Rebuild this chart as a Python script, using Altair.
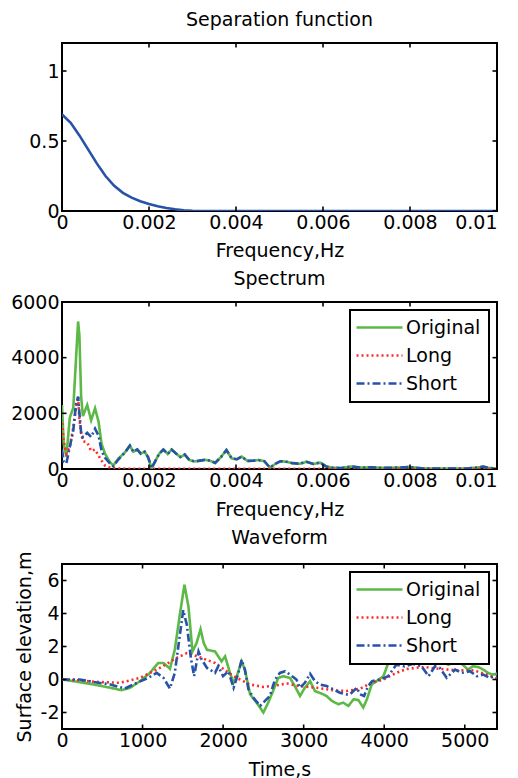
import altair as alt
import pandas as pd

FONT = "DejaVu Sans"
FS = 19

# ---------------- data ----------------
sep_freq = [0, 0.0002, 0.0004, 0.0006, 0.0008, 0.001, 0.0012, 0.0014, 0.0016, 0.0018,
            0.002, 0.0022, 0.0024, 0.0026, 0.0028, 0.003, 0.004, 0.006, 0.008, 0.01]
sep_value = [0.69, 0.63, 0.54, 0.44, 0.34, 0.25, 0.18, 0.13, 0.095, 0.07,
             0.05, 0.034, 0.021, 0.012, 0.005, 0.002, 0.0, 0.0, 0.0, 0.0]

spec_freq = [0, 0.00004, 0.0001, 0.00018, 0.00026, 0.00032, 0.00037, 0.0004, 0.00044, 0.00048,
             0.00058, 0.00067, 0.00076, 0.00084, 0.00091, 0.00099, 0.0011, 0.00118, 0.0013, 0.00145,
             0.00156, 0.00164, 0.00173, 0.00181, 0.0019, 0.00198, 0.00206, 0.00215, 0.00224, 0.00233,
             0.00243, 0.00252, 0.00262, 0.00272, 0.00282, 0.00293, 0.00305, 0.00317, 0.00329, 0.0034,
             0.00352, 0.00365, 0.00378, 0.0039, 0.00402, 0.00413, 0.00426, 0.0044, 0.00452, 0.00465,
             0.00478, 0.0049, 0.00502, 0.00516, 0.0053, 0.00547, 0.00562, 0.00578, 0.00593, 0.00608,
             0.0062, 0.0064, 0.00665, 0.00685, 0.0071, 0.0074, 0.0077, 0.008, 0.0083, 0.0086,
             0.009, 0.0093, 0.0096, 0.00968, 0.0098, 0.01]
spec_original = [2300, 900, 450, 1850, 2200, 3900, 5300, 4800, 2600, 1900,
                 2300, 1750, 2180, 1700, 900, 550, 250, 130, 380, 600,
                 840, 620, 700, 550, 620, 420, 30, 300, 560, 700,
                 540, 700, 560, 430, 520, 320, 270, 300, 330, 300,
                 220, 420, 680, 380, 350, 450, 290, 300, 320, 280,
                 50, 180, 280, 260, 210, 190, 260, 180, 230, 90,
                 50, 30, 90, 50, 60, 40, 50, 70, 20, 20,
                 20, 20, 60, 90, 40, 10]
spec_long = [1650, 1000, 550, 800, 1500, 2200, 2600, 1800, 1300, 1000,
             950, 650, 700, 480, 300, 120, 50, 30, 20, 10,
             10, 10, 10, 10, 10, 10, 10, 10, 10, 10,
             10, 10, 10, 10, 10, 10, 10, 10, 10, 10,
             10, 10, 10, 10, 10, 10, 10, 10, 10, 10,
             10, 10, 10, 10, 10, 10, 10, 10, 10, 10,
             10, 10, 10, 10, 10, 10, 10, 10, 10, 10,
             10, 10, 10, 10, 10, 10]
spec_short = [700, 250, 200, 800, 1400, 2300, 2600, 2000, 1300, 1150,
              1300, 1150, 1450, 1200, 650, 400, 200, 100, 350, 600,
              840, 620, 700, 550, 620, 420, 30, 300, 560, 700,
              540, 700, 560, 430, 520, 320, 270, 300, 330, 300,
              220, 420, 680, 380, 350, 450, 290, 300, 320, 280,
              50, 180, 280, 260, 210, 190, 260, 180, 230, 90,
              50, 30, 90, 50, 60, 40, 50, 70, 20, 20,
              20, 20, 60, 90, 40, 10]

wave_original_t = [0, 140, 390, 600, 740, 845, 970, 1090, 1195, 1260,
                   1340, 1400, 1465, 1520, 1570, 1620, 1670, 1720, 1760, 1800,
                   1900, 1980, 2025, 2085, 2130, 2170, 2230, 2270, 2335, 2415,
                   2500, 2560, 2620, 2685, 2750, 2830, 2890, 2955, 3015, 3080,
                   3140, 3220, 3285, 3350, 3430, 3490, 3555, 3620, 3680, 3740,
                   3785, 3845, 3905, 3990, 4050, 4110, 4200, 4300, 4400, 4480,
                   4550, 4650, 4740, 4800, 4880, 4940, 5040, 5100, 5170, 5230,
                   5290, 5340, 5400]
wave_original_v = [0, -0.1, -0.3, -0.5, -0.65, -0.5, -0.1, 0.4, 1.0, 1.0,
                   0.65, 1.8, 4.0, 5.75, 4.4, 1.7, 2.2, 3.05, 2.2, 1.8,
                   1.7, 1.1, 1.4, 0.4, -0.2, 0.2, 1.1, 0.6, -0.9, -1.4,
                   -2.0, -1.4, -0.7, 0.1, 0.2, 0.1, -0.4, -1.0, -0.5, -0.1,
                   -0.7, -0.85, -1.0, -1.3, -1.5, -1.4, -1.6, -1.2, -1.25, -1.7,
                   -1.2, -0.3, -0.1, 0.2, 1.0, 1.4, 1.6, 1.4, 1.7, 1.3,
                   1.0, 1.3, 1.0, 0.9, 1.1, 1.05, 0.6, 0.8, 0.75, 0.6,
                   0.4, 0.3, 0.35]

wave_long_t = [0, 200, 400, 720, 970, 1215, 1420, 1550, 1710, 1900,
               2130, 2330, 2500, 2660, 2790, 2950, 3160, 3370, 3530, 3700,
               3840, 3990, 4150, 4280, 4490, 4690, 4900, 5110, 5270, 5400]
wave_long_v = [0, -0.05, -0.14, -0.2, 0.1, 0.7, 1.3, 1.6, 1.35, 1.0,
               0.2, -0.3, -0.45, -0.36, -0.24, -0.4, -0.5, -0.66, -0.7, -0.56,
               -0.2, 0.0, 0.4, 0.64, 0.76, 0.64, 0.56, 0.56, 0.3, 0.04]

wave_short_t = [0, 220, 390, 600, 780, 930, 1070, 1175, 1260, 1340,
                1400, 1455, 1505, 1550, 1600, 1640, 1695, 1735, 1800, 1900,
                1940, 2000, 2065, 2130, 2190, 2230, 2270, 2315, 2375, 2460,
                2520, 2580, 2645, 2705, 2770, 2830, 2910, 2955, 3015, 3080,
                3140, 3200, 3285, 3370, 3450, 3535, 3575, 3660, 3700, 3750,
                3800, 3850, 3950, 4050, 4150, 4250, 4360, 4465, 4550, 4630,
                4690, 4775, 4880, 4960, 5065, 5150, 5230, 5310, 5400]
wave_short_v = [0, 0, -0.15, -0.3, -0.55, -0.2, 0.1, 0.4, 0.1, -0.55,
                0.4, 2.4, 4.2, 3.3, 1.3, 0.2, 1.7, 1.2, 0.7, 0.4,
                0.8, 0.2, 0.5, -0.5, 0.4, 1.2, 0.6, -0.6, -1.1, -1.6,
                -1.3, -1.0, 0.0, 0.4, 0.5, 0.3, 0.0, -0.5, -0.2, 0.35,
                -0.1, -0.3, -0.4, -0.6, -0.8, -0.9, -0.9, -0.5, -0.9, -1.0,
                -0.4, -0.1, 0.0, 0.2, 0.9, 0.8, 0.95, 0.8, 0.2, 0.8,
                0.7, 0.1, 0.6, 0.4, 0.5, 0.2, 0.3, 0.1, 0.25]

series_names = ["Original", "Long", "Short"]
series_colors = ["#5cb946", "#ff2a2a", "#2652a8"]
series_dash = [[1, 0], [2, 3], [8, 3, 2, 3]]

freq_ticks = [0, 0.002, 0.004, 0.006, 0.008, 0.01]
sep_yticks = [0, 0.5, 1]
spec_yticks = [0, 2000, 4000, 6000]
time_ticks = [0, 1000, 2000, 3000, 4000, 5000]
wave_yticks = [-2, 0, 2, 4, 6]

W = 435

# ---------------- tables ----------------
sep_df = pd.DataFrame({"x": sep_freq, "y": sep_value})
spec_df = pd.concat([
    pd.DataFrame({"x": spec_freq, "y": spec_original, "s": "Original", "o": 0}),
    pd.DataFrame({"x": spec_freq, "y": spec_long, "s": "Long", "o": 1}),
    pd.DataFrame({"x": spec_freq, "y": spec_short, "s": "Short", "o": 2}),
])
wave_df = pd.concat([
    pd.DataFrame({"x": wave_original_t, "y": wave_original_v, "s": "Original", "o": 0}),
    pd.DataFrame({"x": wave_long_t, "y": wave_long_v, "s": "Long", "o": 1}),
    pd.DataFrame({"x": wave_short_t, "y": wave_short_v, "s": "Short", "o": 2}),
])

LABEL_EXPR = "datum.value + ''"
# keep the last frequency label inside the page
X_LABEL_ALIGN = {"condition": {"test": "datum.value >= 0.0099 && datum.value <= 0.0101",
                               "value": "right"}, "value": "center"}


def x_enc(domain, ticks, title, tpad=10):
    return alt.X("x:Q", scale=alt.Scale(domain=domain, nice=False, zero=False),
                 axis=alt.Axis(values=ticks, labelExpr=LABEL_EXPR, title=title,
                               labelFlush=False, labelPadding=2, titlePadding=tpad,
                               labelAlign=X_LABEL_ALIGN))


def y_enc(domain, ticks, title=None):
    if title:
        ax = alt.Axis(values=ticks, labelExpr=LABEL_EXPR, title=title, labelFlush=False)
    else:
        ax = alt.Axis(values=ticks, labelExpr=LABEL_EXPR, title=None, labelFlush=False)
    return alt.Y("y:Q", scale=alt.Scale(domain=domain, nice=False, zero=False), axis=ax)


def tick_layers(h, X, Y, xticks, yticks):
    xt = pd.DataFrame({"x": xticks})
    yt = pd.DataFrame({"y": yticks})
    base_x = alt.Chart(xt).mark_tick(orient="vertical", size=9, thickness=1.6,
                                      color="black", clip=True, opacity=1)
    base_y = alt.Chart(yt).mark_tick(orient="horizontal", size=9, thickness=1.6,
                                      color="black", clip=True, opacity=1)
    return [
        base_x.encode(x=X, y=alt.value(0)),
        base_x.encode(x=X, y=alt.value(h)),
        base_y.encode(y=Y, x=alt.value(0)),
        base_y.encode(y=Y, x=alt.value(W)),
    ]


color_scale = alt.Scale(domain=series_names, range=series_colors)
dash_scale = alt.Scale(domain=series_names, range=series_dash)

legend = alt.Legend(title=None, orient="top-right", offset=8)


def multi_panel(df, h, xdom, xticks, ydom, yticks, xtitle, ytitle, title, toffset):
    X = x_enc(xdom, xticks, xtitle)
    Y = y_enc(ydom, yticks, ytitle)
    lines = alt.Chart(df).mark_line(strokeWidth=2.6, strokeCap="butt", clip=True).encode(
        x=X, y=Y,
        color=alt.Color("s:N", scale=color_scale, legend=legend, sort=series_names),
        strokeDash=alt.StrokeDash("s:N", scale=dash_scale, legend=legend, sort=series_names),
        order=alt.Order("o:Q"),
        detail="s:N",
    )
    return alt.layer(lines, *tick_layers(h, X, Y, xticks, yticks)).properties(
        width=W, height=h, title=alt.TitleParams(title, offset=toffset))


# panel 1
H1, H2, H3 = 168, 167, 165
X1 = x_enc([0, 0.01], freq_ticks, "Frequency,Hz", tpad=9)
Y1 = y_enc([0, 1.2], sep_yticks)
sep_line = alt.Chart(sep_df).mark_line(strokeWidth=2.6, color="#2652a8", clip=True).encode(x=X1, y=Y1)
panel1 = alt.layer(sep_line, *tick_layers(H1, X1, Y1, freq_ticks, sep_yticks)).properties(
    width=W, height=H1, title=alt.TitleParams("Separation function", offset=13))

panel2 = multi_panel(spec_df, H2, [0, 0.01], freq_ticks, [0, 6000], spec_yticks,
                     "Frequency,Hz", None, "Spectrum", 4)
panel3 = multi_panel(wave_df, H3, [0, 5400], time_ticks, [-3, 7], wave_yticks,
                     "Time,s", "Surface elevation,m", "Waveform", 3)

chart = alt.vconcat(panel1, panel2, panel3, spacing=8).resolve_scale(
    color="independent", strokeDash="independent"
).resolve_legend(color="independent", strokeDash="independent").properties(
    padding={"left": 1, "top": 2, "right": 0, "bottom": 0}
).configure_view(
    stroke="black", strokeWidth=2, fill="white"
).configure_axis(
    domain=False, ticks=False, grid=False,
    labelFont=FONT, labelFontSize=FS, labelColor="black", labelPadding=3,
    titleFont=FONT, titleFontSize=FS, titleFontWeight="normal", titleColor="black",
).configure_axisY(titlePadding=6).configure_title(
    font=FONT, fontSize=FS, fontWeight="normal", color="black"
).configure_legend(
    labelFont=FONT, labelFontSize=FS, labelColor="black",
    symbolType="M-3,0H3", symbolSize=235, symbolStrokeWidth=2.6, symbolOffset=12,
    labelOffset=17, strokeColor="black", strokeWidth=2, fillColor="white",
    padding=8, rowPadding=8, cornerRadius=0,
)

chart.save("out.html", embed_options={"renderer": "svg", "actions": False})
